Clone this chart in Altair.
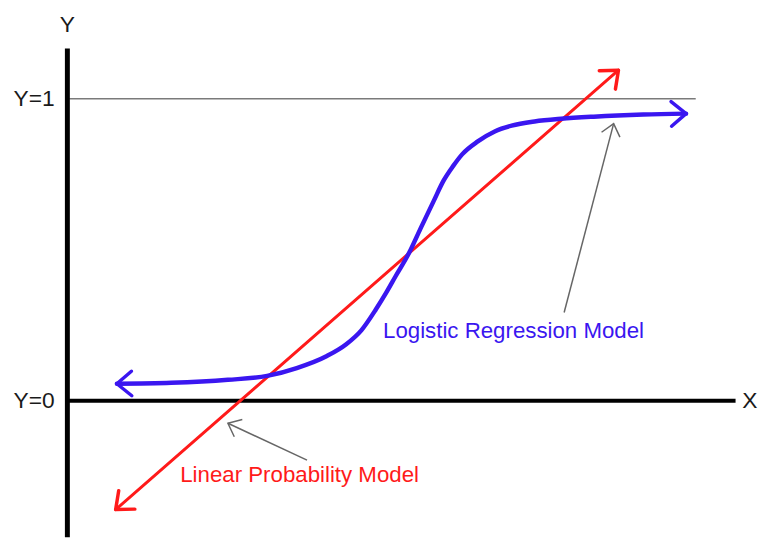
import math
import altair as alt
import pandas as pd

# ---- data (X: arbitrary units, Y: probability) ----
blue_x = [0.82, 1.72, 2.66, 3.31, 3.80, 4.30, 4.62, 4.87, 5.11, 5.28, 5.44, 5.66, 5.85,
          6.07, 6.23, 6.39, 6.54, 6.80, 7.08, 7.36, 7.74, 8.18, 8.72, 9.54, 10.25]
blue_y = [0.056, 0.059, 0.069, 0.082, 0.108, 0.148, 0.187, 0.233, 0.302, 0.357, 0.413,
          0.489, 0.570, 0.662, 0.728, 0.777, 0.816, 0.859, 0.892, 0.911, 0.925, 0.934,
          0.941, 0.948, 0.951]
red_x = [0.80, 9.13]
red_y = [-0.361, 1.095]

# annotation pointers: (tail_x, tail_y, tip_x, tip_y)
ptr_tail_x = [8.23, 3.97]
ptr_tail_y = [0.292, -0.197]
ptr_tip_x = [9.05, 2.66]
ptr_tip_y = [0.918, -0.075]

labels = ["Logistic Regression Model", "Linear Probability Model"]
label_x = [5.23, 1.87]
label_y = [0.23, -0.246]

axis_labels = ["Y", "Y=1", "Y=0", "X"]

# ---- layout ----
W, H = 762, 532
X0, X1 = -0.9836, 11.508
Y0, Y1 = -0.4525, 1.2918
px_x = W / (X1 - X0)
px_y = H / (Y1 - Y0)

xs = alt.Scale(domain=[X0, X1], nice=False, zero=False)
ys = alt.Scale(domain=[Y0, Y1], nice=False, zero=False)


def X(f="x"):
    return alt.X(f"{f}:Q", scale=xs, axis=None)


def Y(f="y"):
    return alt.Y(f"{f}:Q", scale=ys, axis=None)


def heading(x_from, y_from, x_to, y_to):
    a = math.degrees(math.atan2((x_to - x_from) * px_x, (y_to - y_from) * px_y))
    return a % 360


CHEVRON = "M -0.64 0.77 L 0 0 L 0.64 0.77"
FONT = "Liberation Sans"

# reference line Y=1
ref_df = pd.DataFrame({"x": [0.03], "x2": [10.41], "y": [1.0]})
ref = alt.Chart(ref_df).mark_rule(color="#7a7a7a", strokeWidth=1.5).encode(
    x=X(), x2="x2:Q", y=Y())

# axes
yaxis_df = pd.DataFrame({"x": [0.0], "y": [Y0], "y2": [1.167]})
yaxis = alt.Chart(yaxis_df).mark_rule(color="black", strokeWidth=5).encode(
    x=X(), y=Y(), y2="y2:Q")
xaxis_df = pd.DataFrame({"x": [0.0], "x2": [11.07], "y": [0.0]})
xaxis = alt.Chart(xaxis_df).mark_rule(color="black", strokeWidth=4).encode(
    x=X(), x2="x2:Q", y=Y())

# red linear model
red_df = pd.DataFrame({"x": red_x, "y": red_y})
red = alt.Chart(red_df).mark_line(color="#ff1a1a", strokeWidth=3, strokeCap="round").encode(
    x=X(), y=Y())

# blue logistic model
blue_df = pd.DataFrame({"x": blue_x, "y": blue_y, "o": list(range(len(blue_x)))})
blue = alt.Chart(blue_df).mark_line(color="#3a16f0", strokeWidth=4.5, strokeCap="round",
                                    interpolate="monotone").encode(
    x=X(), y=Y(), order="o:Q")

# arrow heads at the ends of both curves
heads_df = pd.DataFrame({
    "x": [red_x[0], red_x[-1], blue_x[0], blue_x[-1]],
    "y": [red_y[0], red_y[-1], blue_y[0], blue_y[-1]],
    "ang": [heading(red_x[1], red_y[1], red_x[0], red_y[0]),
            heading(red_x[0], red_y[0], red_x[1], red_y[1]),
            heading(blue_x[1], blue_y[1], blue_x[0], blue_y[0]),
            heading(blue_x[-2], blue_y[-2], blue_x[-1], blue_y[-1])],
    "c": ["red", "red", "blue", "blue"],
})
heads = alt.Chart(heads_df).mark_point(shape=CHEVRON, filled=False, size=1500,
                                       strokeWidth=3.5, strokeCap="round",
                                       strokeJoin="round", opacity=1).encode(
    x=X(), y=Y(), angle=alt.Angle("ang:Q", scale=None),
    color=alt.Color("c:N", scale=alt.Scale(domain=["red", "blue"],
                                           range=["#ff1a1a", "#3a16f0"]), legend=None))

# annotation pointers
ptr_df = pd.DataFrame({"x": ptr_tail_x, "y": ptr_tail_y, "x2": ptr_tip_x, "y2": ptr_tip_y})
ptr_df["ang"] = [heading(a, b, c, d) for a, b, c, d in
                 zip(ptr_tail_x, ptr_tail_y, ptr_tip_x, ptr_tip_y)]
ptr = alt.Chart(ptr_df).mark_rule(color="#666666", strokeWidth=1.5).encode(
    x=X(), y=Y(), x2="x2:Q", y2="y2:Q")
ptr_heads = alt.Chart(ptr_df).mark_point(shape=CHEVRON, filled=False, size=900,
                                         strokeWidth=1.5, color="#666666", opacity=1).encode(
    x=X("x2"), y=Y("y2"), angle=alt.Angle("ang:Q", scale=None))

# model labels
lab_df = pd.DataFrame({"t": labels, "x": label_x, "y": label_y, "c": ["blue", "red"]})
lab = alt.Chart(lab_df).mark_text(align="left", baseline="middle", font=FONT,
                                  fontSize=22.5).encode(
    x=X(), y=Y(), text="t:N",
    color=alt.Color("c:N", scale=alt.Scale(domain=["red", "blue"],
                                           range=["#ff2a2a", "#5b3cf2"]), legend=None))

# axis labels
ax_df = pd.DataFrame({"t": axis_labels,
                      "x": [0.0, -0.21, -0.21, 11.18],
                      "y": [1.246, 1.0, 0.0, 0.0],
                      "a": ["center", "right", "right", "left"]})
ax_c = alt.Chart(ax_df[ax_df.a == "center"]).mark_text(
    align="center", baseline="middle", font=FONT, fontSize=23, color="#1a1a1a").encode(
    x=X(), y=Y(), text="t:N")
ax_r = alt.Chart(ax_df[ax_df.a == "right"]).mark_text(
    align="right", baseline="middle", font=FONT, fontSize=23, color="#1a1a1a").encode(
    x=X(), y=Y(), text="t:N")
ax_l = alt.Chart(ax_df[ax_df.a == "left"]).mark_text(
    align="left", baseline="middle", font=FONT, fontSize=23, color="#1a1a1a").encode(
    x=X(), y=Y(), text="t:N")

chart = alt.layer(ref, yaxis, xaxis, red, blue, heads, ptr, ptr_heads, lab,
                  ax_c, ax_r, ax_l).properties(
    width=W, height=H, padding=0,
    autosize=alt.AutoSizeParams(type="none"),
).configure_view(stroke=None)

chart.save("out.html", embed_options={"renderer": "svg", "actions": False})
